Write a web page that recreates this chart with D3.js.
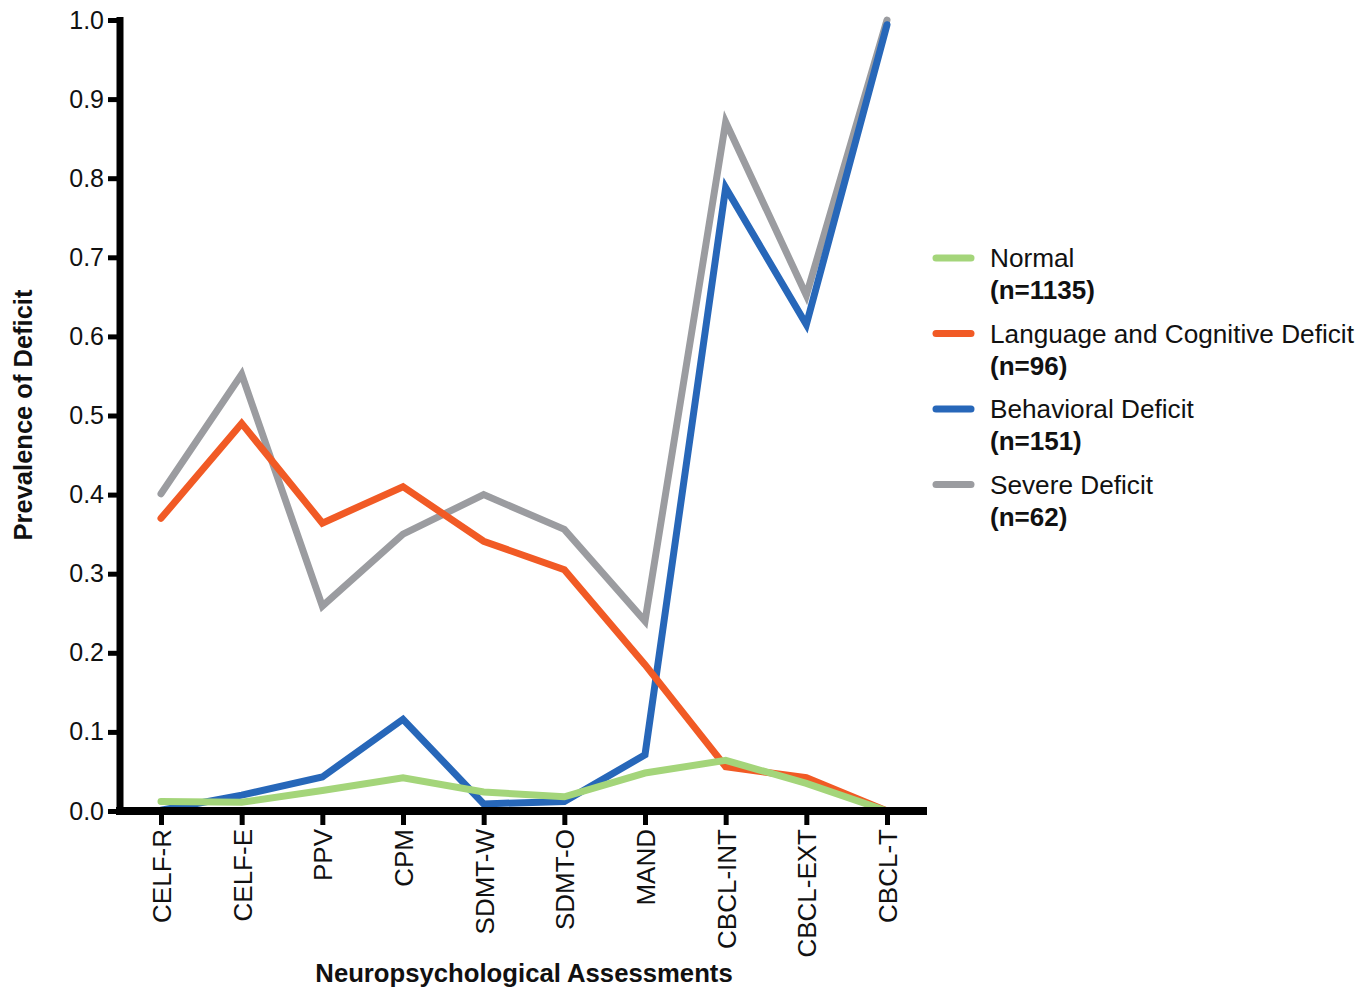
<!DOCTYPE html>
<html>
<head>
<meta charset="utf-8">
<script src="https://cdn.jsdelivr.net/npm/d3@7"></script>
<style>
  html, body { margin: 0; padding: 0; background: #ffffff; }
  svg { display: block; font-family: "Liberation Sans", Arial, Helvetica, sans-serif; }
</style>
</head>
<body>
<svg id="chart" width="1372" height="990"></svg>
<script>
// Assessments along the x axis
const categories = ["CELF-R", "CELF-E", "PPV", "CPM", "SDMT-W", "SDMT-O", "MAND", "CBCL-INT", "CBCL-EXT", "CBCL-T"];

// Prevalence of deficit per latent class
const normal     = [0.012, 0.011, 0.026, 0.042, 0.024, 0.018, 0.048, 0.064, 0.035, 0.000];
const langCog    = [0.370, 0.490, 0.364, 0.410, 0.341, 0.305, 0.185, 0.056, 0.042, 0.000];
const behavioral = [0.001, 0.020, 0.043, 0.116, 0.009, 0.012, 0.071, 0.788, 0.615, 0.994];
const severe     = [0.401, 0.552, 0.259, 0.350, 0.400, 0.356, 0.240, 0.871, 0.652, 1.000];

const yTicks = [0, 0.1, 0.2, 0.3, 0.4, 0.5, 0.6, 0.7, 0.8, 0.9, 1.0];

const seriesNames = ["Normal", "Language and Cognitive Deficit", "Behavioral Deficit", "Severe Deficit"];
const seriesCounts = ["(n=1135)", "(n=96)", "(n=151)", "(n=62)"];
const seriesColors = ["#a4d57a", "#f15a25", "#2767b9", "#9b9ca0"];
const seriesValues = [normal, langCog, behavioral, severe];

const svg = d3.select("#chart");

const x = d3.scalePoint().domain(categories).range([161, 887]);
const y = d3.scaleLinear().domain([0, 1]).range([811, 20]);

// Lines: severe drawn first, normal on top
const line = d3.line()
  .x((d, i) => x(categories[i]))
  .y(d => y(d));

const drawOrder = [3, 2, 1, 0];
svg.append("g")
  .selectAll("path")
  .data(drawOrder)
  .join("path")
  .attr("d", k => line(seriesValues[k]))
  .attr("fill", "none")
  .attr("stroke", k => seriesColors[k])
  .attr("stroke-width", 7)
  .attr("stroke-linecap", "round")
  .attr("stroke-linejoin", "miter");

// Y axis
const yAxis = svg.append("g")
  .attr("transform", "translate(120,0)")
  .call(d3.axisLeft(y).tickValues(yTicks).tickFormat(d3.format(".1f")).tickSize(12).tickPadding(4));
yAxis.select(".domain").remove();
yAxis.selectAll(".tick line").attr("stroke", "#000").attr("stroke-width", 5);
yAxis.selectAll(".tick text")
  .attr("fill", "#111")
  .style("font-size", "25px");
svg.append("line")
  .attr("x1", 120).attr("x2", 120)
  .attr("y1", y.range()[1] - 3).attr("y2", y.range()[0] + 4)
  .attr("stroke", "#000").attr("stroke-width", 7);

// X axis
const xAxis = svg.append("g")
  .attr("transform", "translate(0,811)")
  .call(d3.axisBottom(x).tickSize(14).tickPadding(4));
xAxis.select(".domain").remove();
xAxis.selectAll(".tick line").attr("stroke", "#000").attr("stroke-width", 5);
xAxis.selectAll(".tick text")
  .attr("fill", "#111")
  .style("font-size", "26px")
  .attr("text-anchor", "end")
  .attr("transform", "rotate(-90)")
  .attr("x", -18)
  .attr("y", 0)
  .attr("dy", "0.36em");
svg.append("line")
  .attr("x1", 116).attr("x2", 927)
  .attr("y1", 811).attr("y2", 811)
  .attr("stroke", "#000").attr("stroke-width", 8);

// Axis titles
svg.append("text")
  .attr("x", 524).attr("y", 982)
  .attr("text-anchor", "middle")
  .style("font-size", "25.7px").style("font-weight", "bold")
  .attr("fill", "#111")
  .text("Neuropsychological Assessments");

svg.append("text")
  .attr("transform", "translate(32,415) rotate(-90)")
  .attr("text-anchor", "middle")
  .style("font-size", "25.5px").style("font-weight", "bold")
  .attr("fill", "#111")
  .text("Prevalence of Deficit");

// Legend
const legend = svg.append("g").attr("transform", "translate(933,258)");
const items = legend.selectAll("g")
  .data(seriesNames.map((n, i) => ({ name: n, count: seriesCounts[i], color: seriesColors[i] })))
  .join("g")
  .attr("transform", (d, i) => `translate(0,${i * 75.5})`);
items.append("line")
  .attr("x1", 3).attr("x2", 38)
  .attr("y1", 0).attr("y2", 0)
  .attr("stroke", d => d.color)
  .attr("stroke-width", 7)
  .attr("stroke-linecap", "round");
items.append("text")
  .attr("x", 57).attr("y", 9)
  .style("font-size", "26.2px")
  .attr("fill", "#111")
  .text(d => d.name);
items.append("text")
  .attr("x", 57).attr("y", 41)
  .style("font-size", "26px").style("font-weight", "bold")
  .attr("fill", "#111")
  .text(d => d.count);
</script>
</body>
</html>
